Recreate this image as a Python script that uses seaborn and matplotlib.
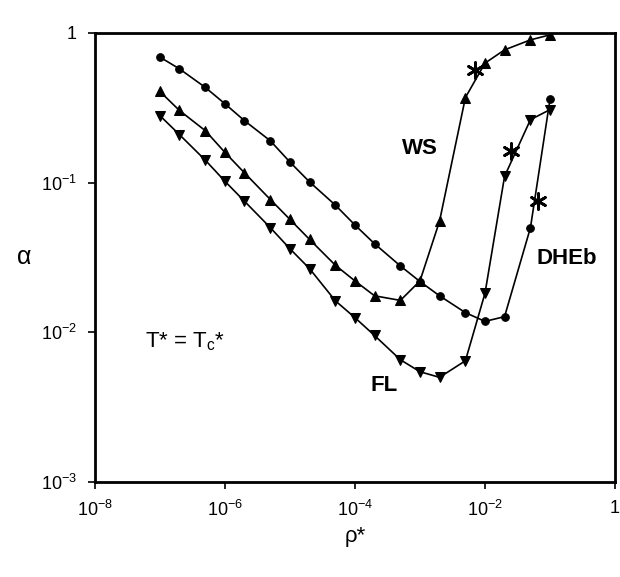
import numpy as np
import pandas as pd
import seaborn as sns
import matplotlib
matplotlib.use('Agg')
import matplotlib.pyplot as plt

# reduced density rho*, 1-2-5 steps per decade
rho = [1e-7, 2e-7, 5e-7, 1e-6, 2e-6, 5e-6, 1e-5, 2e-5, 5e-5,
       1e-4, 2e-4, 5e-4, 1e-3, 2e-3, 5e-3, 1e-2, 2e-2, 5e-2, 1e-1]

# alpha for each model
alpha_dheb = [0.689, 0.575, 0.432, 0.336, 0.259, 0.190, 0.137, 0.101, 0.0706,
              0.052, 0.039, 0.0277, 0.0218, 0.0175, 0.0135, 0.0118, 0.0127, 0.0499, 0.36]
alpha_ws = [0.406, 0.303, 0.222, 0.159, 0.116, 0.077, 0.0567, 0.0417, 0.028,
            0.022, 0.0175, 0.0163, 0.0220, 0.0552, 0.37, 0.628, 0.77, 0.898, 0.97]
alpha_fl = [0.280, 0.209, 0.141, 0.102, 0.075, 0.0499, 0.0361, 0.0266, 0.0162,
            0.0125, 0.0095, 0.00654, 0.00544, 0.00499, 0.00644, 0.0182, 0.110, 0.263, 0.307]

# critical points (asterisks)
crit_rho = [0.0071, 0.025, 0.065]
crit_alpha = [0.567, 0.163, 0.075]

sns.set_style('ticks')
plt.rcParams['font.family'] = ['Liberation Sans', 'DejaVu Sans']
plt.rcParams['mathtext.fontset'] = 'custom'
plt.rcParams['mathtext.rm'] = 'Liberation Sans'
plt.rcParams['mathtext.it'] = 'Liberation Sans:italic'
plt.rcParams['mathtext.bf'] = 'Liberation Sans:bold'
plt.rcParams['text.color'] = 'black'
plt.rcParams['axes.labelcolor'] = 'black'

fig = plt.figure(figsize=(6.2, 5.77), dpi=100)
ax = fig.add_axes([0.153, 0.165, 0.839, 0.778])

df = pd.DataFrame({'rho': rho, 'DHEb': alpha_dheb, 'WS': alpha_ws, 'FL': alpha_fl})

sns.lineplot(data=df, x='rho', y='DHEb', ax=ax, color='black', lw=1.2,
             marker='o', ms=5.5, mec='black')
sns.lineplot(data=df, x='rho', y='WS', ax=ax, color='black', lw=1.2,
             marker='^', ms=6.5, mec='black')
sns.lineplot(data=df, x='rho', y='FL', ax=ax, color='black', lw=1.2,
             marker='v', ms=6.5, mec='black')
sns.scatterplot(x=crit_rho, y=crit_alpha, ax=ax, marker=(6, 2, 0), s=130,
                color='black', linewidth=2, zorder=5)

ax.set_xscale('log')
ax.set_yscale('log')
ax.set_xlim(1e-8, 1)
ax.set_ylim(1e-3, 1)

ax.set_xticks([1e-8, 1e-6, 1e-4, 1e-2, 1])
ax.set_xticklabels(['$10^{-8}$', '$10^{-6}$', '$10^{-4}$', '$10^{-2}$', '1'])
ax.set_yticks([1e-3, 1e-2, 1e-1, 1])
ax.set_yticklabels(['$10^{-3}$', '$10^{-2}$', '$10^{-1}$', '1'])
ax.minorticks_off()
ax.tick_params(axis='both', which='major', direction='out', length=5, width=1.2,
               labelsize=13, colors='black', pad=8)
for s in ax.spines.values():
    s.set_visible(True)
    s.set_linewidth(2)
    s.set_color('black')

ax.set_xlabel('ρ*', fontsize=16, labelpad=4)
ax.set_ylabel('α', fontsize=18, rotation=0, labelpad=12, va='center')

ax.text(1e-3, 0.17, 'WS', fontsize=16, fontweight='bold', ha='center', va='center')
ax.text(0.18, 0.031, 'DHEb', fontsize=16, fontweight='bold', ha='center', va='center')
ax.text(2.8e-4, 0.0044, 'FL', fontsize=16, fontweight='bold', ha='center', va='center')
ax.text(6e-8, 0.0086, r'T* = T$_{\mathregular{c}}$*', fontsize=16, ha='left', va='center')

fig.savefig('out.png', dpi=100)
